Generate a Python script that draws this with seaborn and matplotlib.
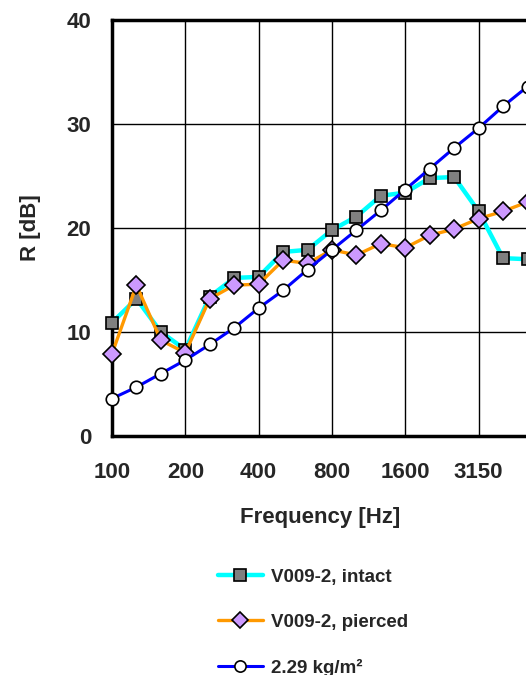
import matplotlib
matplotlib.use('Agg')
import matplotlib.pyplot as plt
import seaborn as sns

# third-octave bands shown in the chart
freqs = ['100', '125', '160', '200', '250', '315', '400', '500', '630', '800',
         '1000', '1250', '1600', '2000', '2500', '3150', '4000', '5000']
tick_labels = ['100', '200', '400', '800', '1600', '3150']

intact = [10.9, 13.2, 10.0, 8.3, 13.4, 15.2, 15.3, 17.7, 17.9, 19.8,
          21.1, 23.1, 23.4, 24.8, 24.9, 21.6, 17.1, 17.0]
pierced = [7.9, 14.5, 9.2, 8.0, 13.2, 14.5, 14.6, 16.9, 16.6, 17.9,
           17.4, 18.5, 18.1, 19.3, 19.9, 20.9, 21.6, 22.5]
mass_law = [3.6, 4.7, 6.0, 7.3, 8.8, 10.4, 12.3, 14.0, 16.0, 17.9,
            19.8, 21.7, 23.7, 25.7, 27.7, 29.6, 31.7, 33.6]

sns.set_style('white')
plt.rcParams['font.family'] = ['Liberation Sans', 'DejaVu Sans']
plt.rcParams['font.weight'] = 'bold'

W, H = 526, 675
fig = plt.figure(figsize=(W / 100, H / 100), dpi=100)
left, right, top, bottom = 112, 527.5, 20, 436
ax = fig.add_axes([left / W, 1 - bottom / H, (right - left) / W, (bottom - top) / H])

pos = list(range(len(freqs)))
sns.lineplot(x=pos, y=intact, ax=ax, color='#00FFFF', linewidth=3.2,
             marker='s', markersize=9, markerfacecolor='#808080',
             markeredgecolor='black', markeredgewidth=1.2,
             label='V009-2, intact', zorder=3, clip_on=False)
sns.lineplot(x=pos, y=pierced, ax=ax, color='#FF9900', linewidth=2.4,
             marker='D', markersize=9.5, markerfacecolor='#CC99FF',
             markeredgecolor='black', markeredgewidth=1.2,
             label='V009-2, pierced', zorder=4, clip_on=False)
sns.lineplot(x=pos, y=mass_law, ax=ax, color='#0000FF', linewidth=2.2,
             marker='o', markersize=9, markerfacecolor='white',
             markeredgecolor='black', markeredgewidth=1.2,
             label='2.29 kg/m\u00b2', zorder=5, clip_on=False)

ax.set_xlim(0, 17)
ax.set_ylim(0, 40)
ax.set_xticks([0, 3, 6, 9, 12, 15])
ax.set_xticklabels(tick_labels)
ax.set_yticks([0, 10, 20, 30, 40])
ax.tick_params(length=0, labelsize=16)
ax.tick_params(axis='x', pad=19)
ax.tick_params(axis='y', pad=15)
ax.grid(True, color='black', linewidth=1)
for s in ax.spines.values():
    s.set_color('black')
    s.set_linewidth(2.5)
    s.set_visible(True)

ax.set_xlabel('Frequency [Hz]', fontsize=16, fontweight='bold', labelpad=17)
ax.set_ylabel('R [dB]', fontsize=16, fontweight='bold', labelpad=18)

leg = ax.legend(loc='upper left', bbox_to_anchor=(210 / W, 1 - 561 / H),
                bbox_transform=fig.transFigure, frameon=False,
                fontsize=13.5, handlelength=2.4, labelspacing=1.5,
                handletextpad=0.45, borderaxespad=0, markerscale=0.9)

fig.savefig('out.png', dpi=100)
